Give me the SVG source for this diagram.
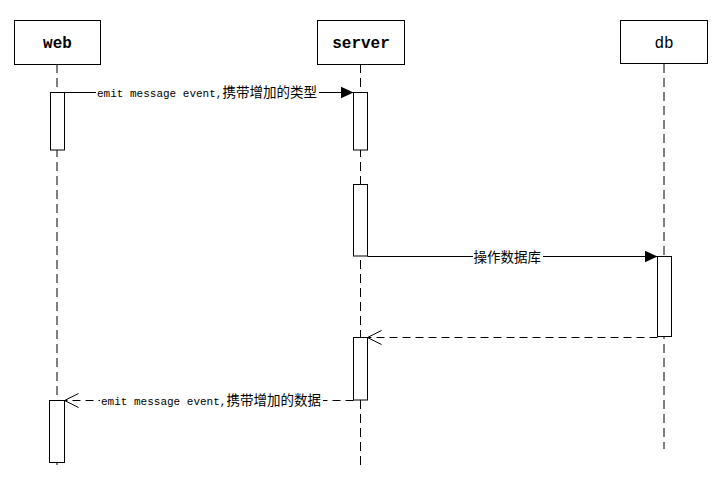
<svg xmlns="http://www.w3.org/2000/svg" width="719" height="479" viewBox="0 0 719 479">
<style>
.box{fill:#fff;stroke:#000;stroke-width:1}
.title{font-family:"Liberation Mono",monospace;font-size:16px;text-anchor:middle}
.life{stroke:#000;stroke-width:1;stroke-dasharray:9 5;fill:none}
.act{fill:#fff;stroke:#000;stroke-width:1}
.msg{stroke:#000;stroke-width:1;fill:none}
.ret{stroke:#000;stroke-width:1;fill:none;stroke-dasharray:8 5}
.lbl{font-family:"Liberation Mono",monospace;font-size:11px;fill:#000}
.cjk{font-family:"Noto Sans CJK SC","Liberation Sans",sans-serif;font-size:13.5px}
.bg{fill:#fff}
</style>
<defs>
<marker id="filled" markerWidth="13" markerHeight="12" refX="13" refY="6" orient="auto" markerUnits="userSpaceOnUse">
<path d="M0,0 L13,6 L0,12 Z" fill="#000"/>
</marker>
<marker id="open" markerWidth="16" markerHeight="16" refX="15" refY="8" orient="auto" markerUnits="userSpaceOnUse">
<path d="M1,1 L15,8 L1,15" fill="none" stroke="#000" stroke-width="1"/>
</marker>
</defs>
<rect width="719" height="479" fill="#fff"/>
<g id="lifelines">
<line class="life" x1="57" y1="64" x2="57" y2="470"/>
<line class="life" x1="360.5" y1="64" x2="360.5" y2="470"/>
<line class="life" x1="664" y1="64" x2="664" y2="449"/>
</g>
<g id="web">
<rect class="box" x="14.5" y="20.5" width="86" height="44"/>
<text class="title" x="57.5" y="48" font-weight="bold">web</text>
</g>
<g id="server">
<rect class="box" x="317.5" y="20.5" width="87" height="44"/>
<text class="title" x="361" y="48" font-weight="bold">server</text>
</g>
<g id="db">
<rect class="box" x="620.5" y="20.5" width="87" height="43"/>
<text class="title" x="664" y="48">db</text>
</g>
<g id="activations">
<rect class="act" x="50.5" y="92.5" width="14" height="57.5"/>
<rect class="act" x="353.5" y="92.5" width="14" height="57.5"/>
<rect class="act" x="353.5" y="184.5" width="14" height="71.5"/>
<rect class="act" x="657.5" y="256.5" width="14" height="80"/>
<rect class="act" x="353.5" y="337.5" width="14" height="62.5"/>
<rect class="act" x="49.5" y="400.5" width="15" height="62"/>
</g>
<g id="connectors">
<line class="msg" x1="64.5" y1="92.5" x2="353.5" y2="92.5" marker-end="url(#filled)"/>
<rect class="bg" x="96" y="85" width="223" height="14"/>
<text x="97" y="97"><tspan class="lbl">emit message event,</tspan><tspan class="cjk">携带增加的类型</tspan></text>

<line class="msg" x1="367.5" y1="256.5" x2="657.5" y2="256.5" marker-end="url(#filled)"/>
<rect class="bg" x="473" y="249" width="70" height="14"/>
<text class="cjk" x="473.5" y="261.5">操作数据库</text>

<line class="ret" x1="657.5" y1="337.5" x2="367.5" y2="337.5" marker-end="url(#open)"/>

<line class="ret" x1="353.5" y1="400.5" x2="64.5" y2="400.5" marker-end="url(#open)"/>
<rect class="bg" x="100" y="393" width="223" height="14"/>
<text x="101" y="405"><tspan class="lbl">emit message event,</tspan><tspan class="cjk">携带增加的数据</tspan></text>
</g>
</svg>
